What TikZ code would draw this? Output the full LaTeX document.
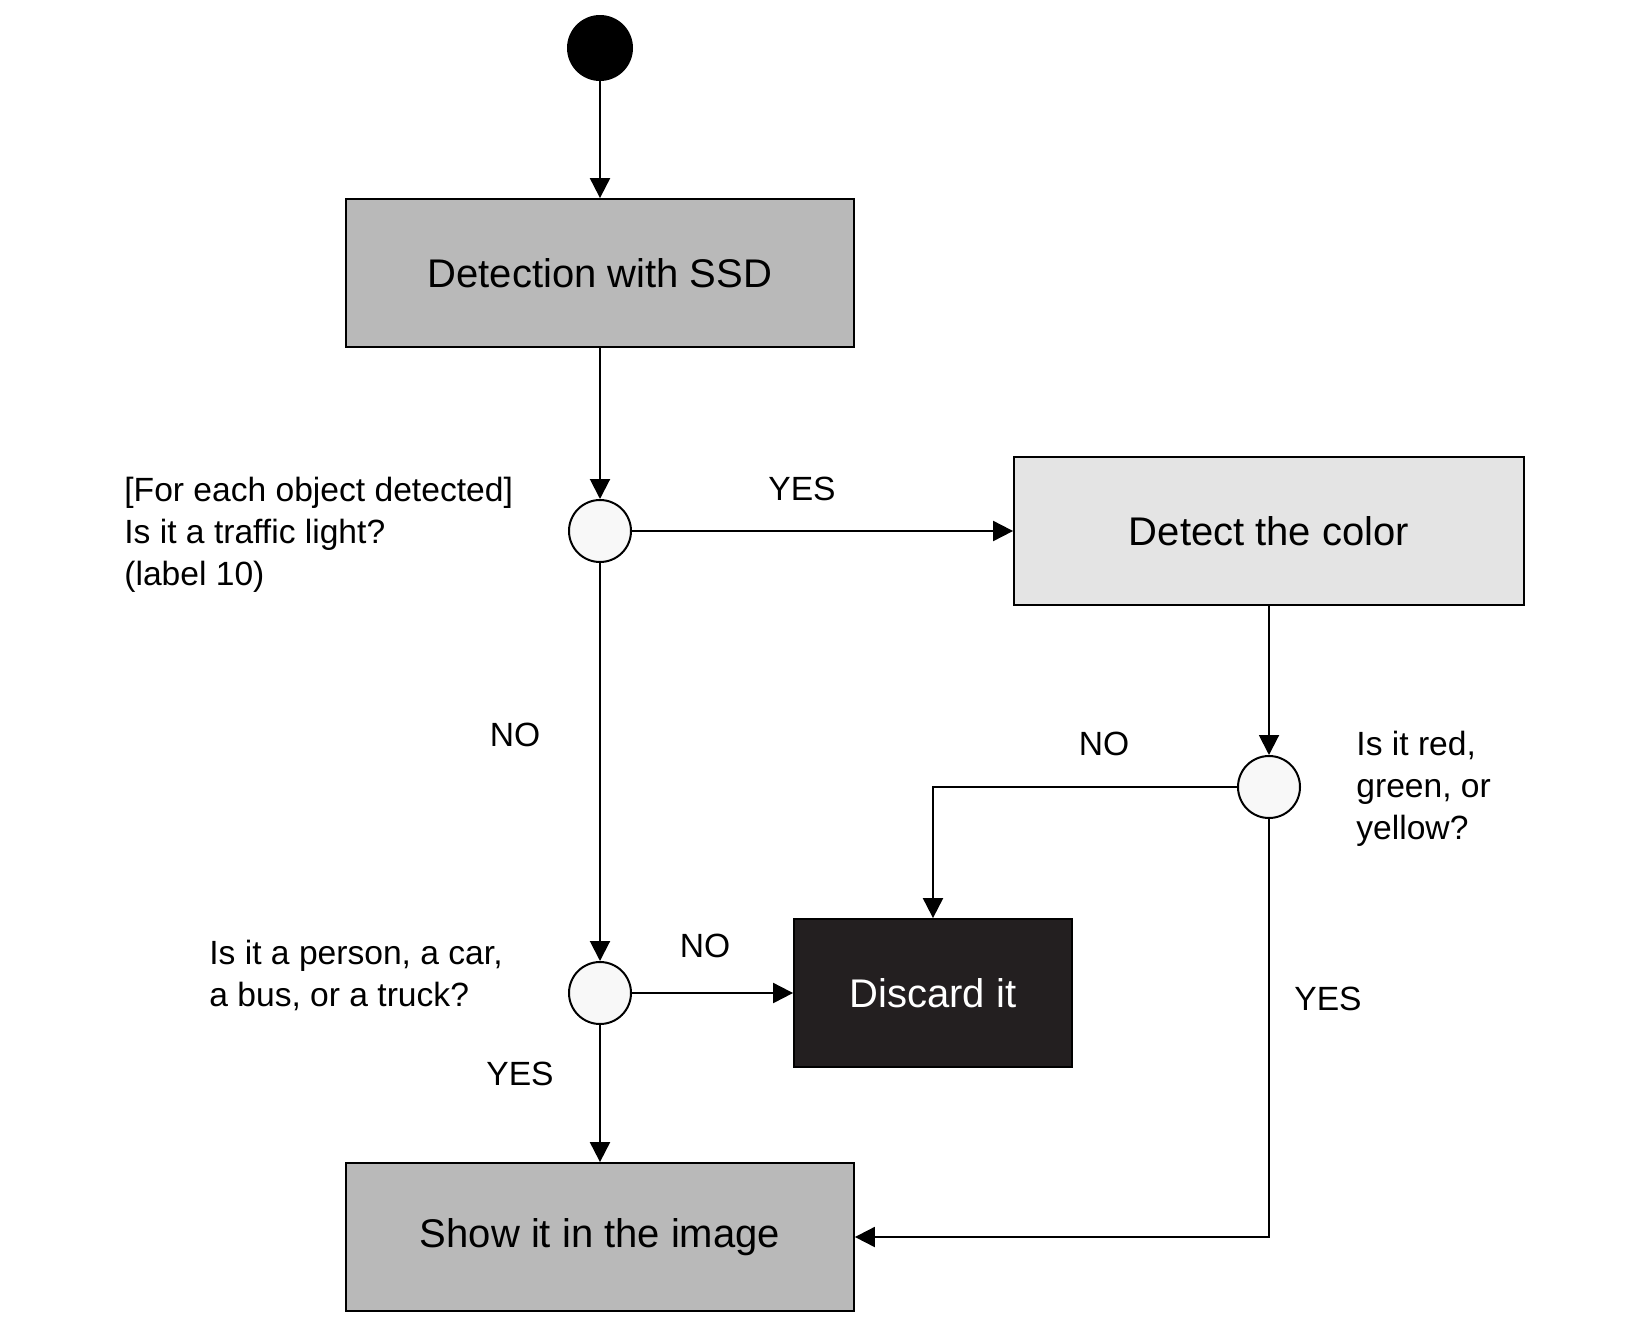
\documentclass[tikz,border=0pt]{standalone}
\usepackage{fontspec}
\setmainfont{Liberation Sans}
\usetikzlibrary{arrows.meta}
\definecolor{actgray}{HTML}{B9B9B9}
\definecolor{actlight}{HTML}{E4E4E4}
\definecolor{actdark}{HTML}{231F20}
\definecolor{decfill}{HTML}{F8F8F8}
\begin{document}
\begin{tikzpicture}[x=0.5pt,y=-0.5pt,
    every node/.style={font=\fontsize{16.8}{21}\selectfont},
    act/.style={draw=black, line width=0.9pt, minimum height=74pt, inner sep=0pt,
        font=\fontsize{20}{24}\selectfont},
    dec/.style={circle, draw=black, line width=1pt, fill=decfill, minimum size=31pt, inner sep=0pt},
    flow/.style={-{Triangle[length=10pt,width=10pt]}, line width=1pt},
    note/.style={align=left, anchor=west, inner sep=0pt}]
    \useasboundingbox (0,0) rectangle (1650,1328);

    \node[circle, fill=black, minimum size=33pt, inner sep=0pt] (start) at (600,48) {};
    \node[act, fill=actgray, minimum width=254pt] (ssd) at (600,273) {Detection with SSD};
    \node[dec] (d1) at (600,531) {};
    \node[act, fill=actlight, minimum width=255pt] (color) at (1269,531) {Detect the color};
    \node[dec] (d2) at (1269,787) {};
    \node[act, fill=actdark, text=white, minimum width=139pt] (discard) at (933,993) {Discard it};
    \node[dec] (d3) at (600,993) {};
    \node[act, fill=actgray, minimum width=254pt] (show) at (600,1237) {Show it in the image};

    % questions
    \node[note] (q1) at (124,535) {[For each object detected]\\Is it a traffic light?\\(label 10)};
    \node[note] (q2) at (1356,789) {Is it red,\\green, or\\yellow?};
    \node[note] (q3) at (209,975) {Is it a person, a car,\\a bus, or a truck?};

    % answers
    \node (yes1) at (802,489) {YES};
    \node (no1) at (515,735) {NO};
    \node (no2) at (1104,744) {NO};
    \node (no3) at (705,946) {NO};
    \node (yes2) at (520,1074) {YES};
    \node (yes3) at (1328,999) {YES};

    \draw[flow] (start) -- (ssd);
    \draw[flow] (ssd) -- (d1);
    \draw[flow] (d1) -- (color);
    \draw[flow] (d1) -- (d3);
    \draw[flow] (color) -- (d2);
    \draw[flow] (d2) -| (discard);
    \draw[flow] (d2) |- (show);
    \draw[flow] (d3) -- (discard);
    \draw[flow] (d3) -- (show);
\end{tikzpicture}
\end{document}
